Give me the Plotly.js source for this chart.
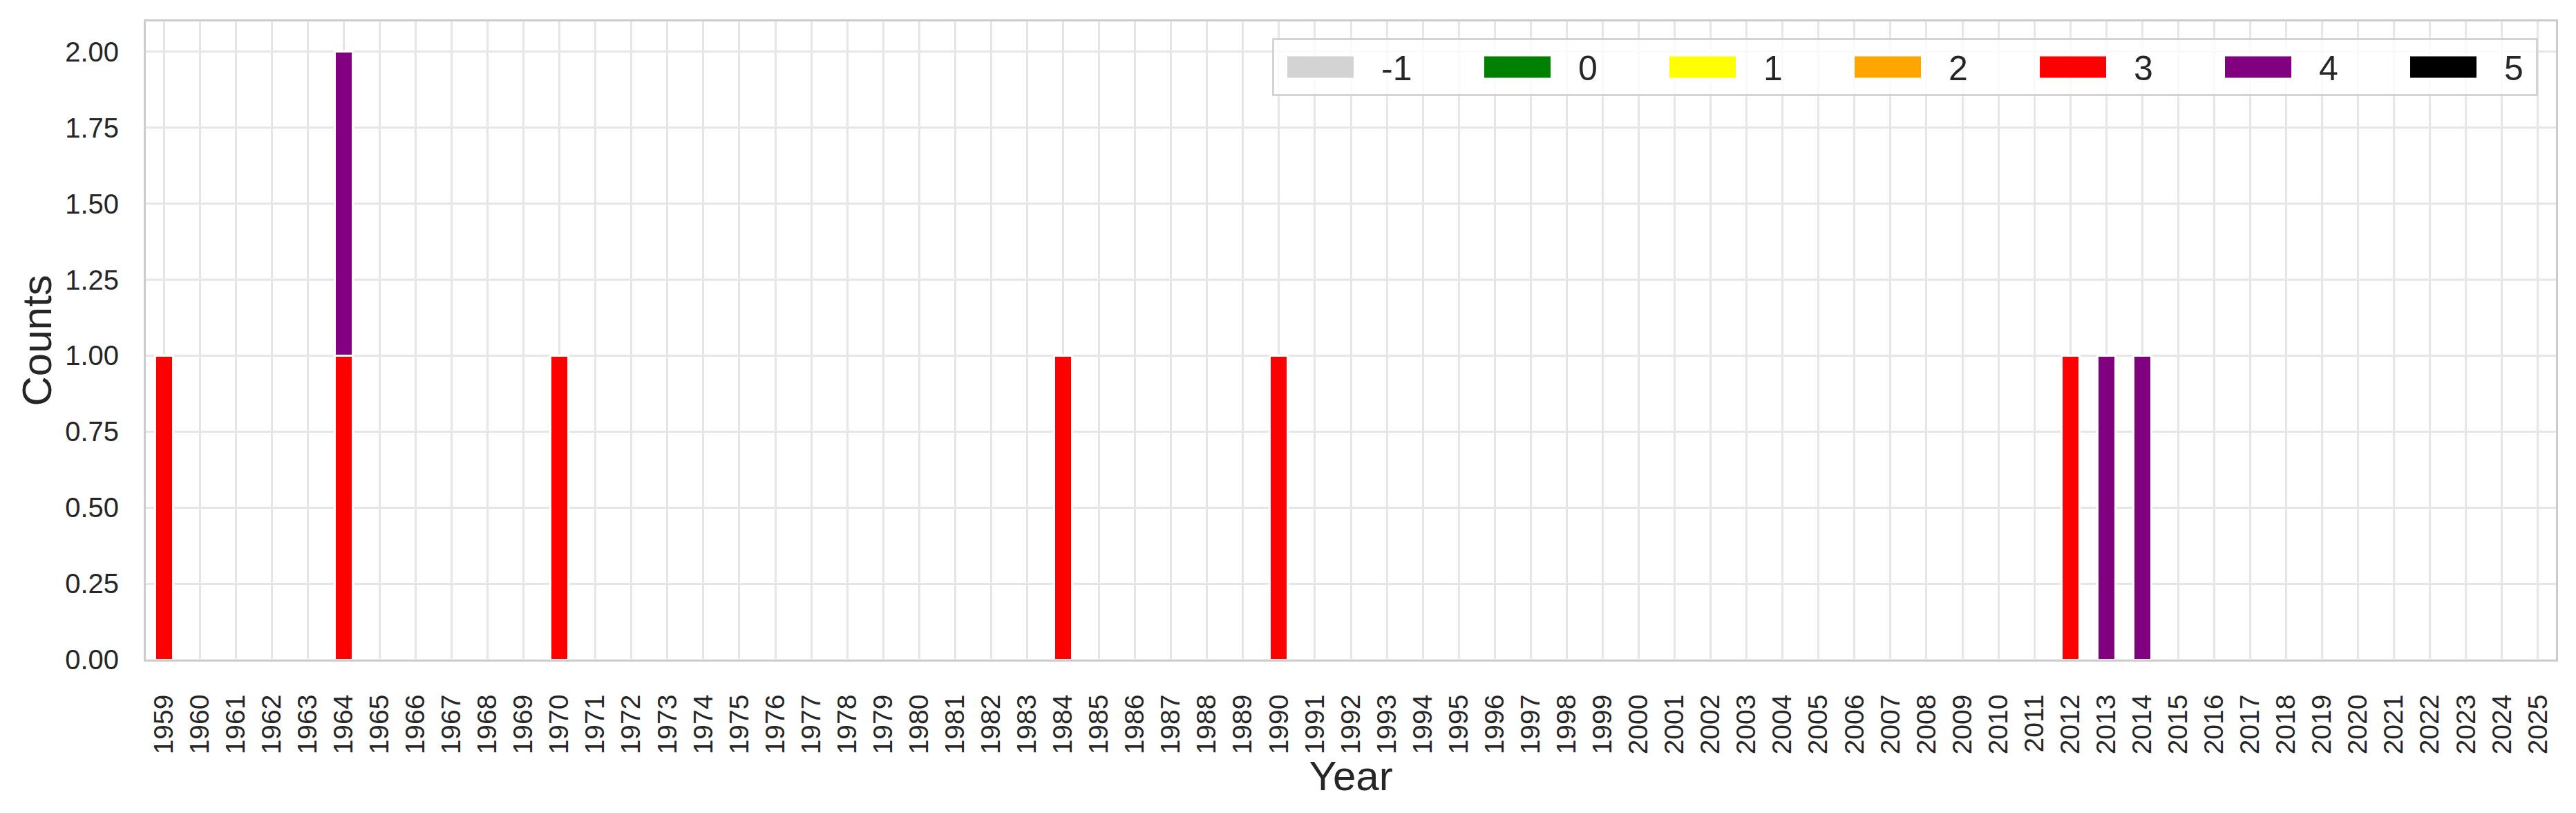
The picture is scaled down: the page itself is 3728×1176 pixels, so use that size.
<!DOCTYPE html>
<html>
<head>
<meta charset="utf-8">
<script src="https://cdn.plot.ly/plotly-3.0.1.min.js"></script>
<style>
  html, body { margin: 0; padding: 0; background: #ffffff; }
  #chart { width: 3728px; height: 1176px; }
</style>
</head>
<body>
<div id="chart"></div>
<script>
// ---- Data ----
const years = [
  "1959","1960","1961","1962","1963","1964","1965","1966","1967","1968",
  "1969","1970","1971","1972","1973","1974","1975","1976","1977","1978",
  "1979","1980","1981","1982","1983","1984","1985","1986","1987","1988",
  "1989","1990","1991","1992","1993","1994","1995","1996","1997","1998",
  "1999","2000","2001","2002","2003","2004","2005","2006","2007","2008",
  "2009","2010","2011","2012","2013","2014","2015","2016","2017","2018",
  "2019","2020","2021","2022","2023","2024","2025"
];

const countsMinus1 = [
  0,0,0,0,0,0,0,0,0,0, 0,0,0,0,0,0,0,0,0,0, 0,0,0,0,0,0,0,0,0,0,
  0,0,0,0,0,0,0,0,0,0, 0,0,0,0,0,0,0,0,0,0, 0,0,0,0,0,0,0,0,0,0, 0,0,0,0,0,0,0
];
const counts0 = [
  0,0,0,0,0,0,0,0,0,0, 0,0,0,0,0,0,0,0,0,0, 0,0,0,0,0,0,0,0,0,0,
  0,0,0,0,0,0,0,0,0,0, 0,0,0,0,0,0,0,0,0,0, 0,0,0,0,0,0,0,0,0,0, 0,0,0,0,0,0,0
];
const counts1 = [
  0,0,0,0,0,0,0,0,0,0, 0,0,0,0,0,0,0,0,0,0, 0,0,0,0,0,0,0,0,0,0,
  0,0,0,0,0,0,0,0,0,0, 0,0,0,0,0,0,0,0,0,0, 0,0,0,0,0,0,0,0,0,0, 0,0,0,0,0,0,0
];
const counts2 = [
  0,0,0,0,0,0,0,0,0,0, 0,0,0,0,0,0,0,0,0,0, 0,0,0,0,0,0,0,0,0,0,
  0,0,0,0,0,0,0,0,0,0, 0,0,0,0,0,0,0,0,0,0, 0,0,0,0,0,0,0,0,0,0, 0,0,0,0,0,0,0
];
const counts3 = [
  1,0,0,0,0,1,0,0,0,0,   // 1959-1968
  0,1,0,0,0,0,0,0,0,0,   // 1969-1978
  0,0,0,0,0,1,0,0,0,0,   // 1979-1988
  0,1,0,0,0,0,0,0,0,0,   // 1989-1998
  0,0,0,0,0,0,0,0,0,0,   // 1999-2008
  0,0,0,1,0,0,0,0,0,0,   // 2009-2018
  0,0,0,0,0,0,0          // 2019-2025
];
const counts4 = [
  0,0,0,0,0,1,0,0,0,0,
  0,0,0,0,0,0,0,0,0,0,
  0,0,0,0,0,0,0,0,0,0,
  0,0,0,0,0,0,0,0,0,0,
  0,0,0,0,0,0,0,0,0,0,
  0,0,0,0,1,1,0,0,0,0,
  0,0,0,0,0,0,0
];
const counts5 = [
  0,0,0,0,0,0,0,0,0,0, 0,0,0,0,0,0,0,0,0,0, 0,0,0,0,0,0,0,0,0,0,
  0,0,0,0,0,0,0,0,0,0, 0,0,0,0,0,0,0,0,0,0, 0,0,0,0,0,0,0,0,0,0, 0,0,0,0,0,0,0
];

const seriesNames  = ["-1", "0", "1", "2", "3", "4", "5"];
const seriesValues = [countsMinus1, counts0, counts1, counts2, counts3, counts4, counts5];
const seriesColors = ["#d3d3d3", "#008000", "#ffff00", "#ffa500", "#ff0000", "#800080", "#000000"];
const legendWidths = [125, 108, 108, 108, 108, 108, 41];

const yTicks = [0, 0.25, 0.5, 0.75, 1.0, 1.25, 1.5, 1.75, 2.0];

// ---- Build traces ----
const FONT = "Liberation Sans, Arial, Helvetica, sans-serif";
const TXT = "#262626";

const traces = seriesNames.map((name, i) => ({
  type: "bar",
  name: name,
  x: years,
  y: seriesValues[i],
  width: 0.5,
  legendwidth: legendWidths[i],
  marker: { color: seriesColors[i], line: { color: "#ffffff", width: 3 } },
  hoverinfo: "x+y+name"
}));

const layout = {
  width: 3728,
  height: 1176,
  paper_bgcolor: "#ffffff",
  plot_bgcolor: "#ffffff",
  barmode: "stack",
  margin: { l: 211, r: 29, t: 31, b: 222, pad: 0 },
  font: { family: FONT, color: TXT, size: 40 },
  showlegend: true,
  legend: {
    orientation: "h",
    x: 0.99255, xanchor: "right",
    y: 0.974, yanchor: "top",
    bgcolor: "rgba(255,255,255,0.8)",
    bordercolor: "#d4d4d4",
    borderwidth: 3,
    font: { family: FONT, size: 50, color: TXT },
    itemwidth: 145,
    traceorder: "normal",
    entrywidthmode: "pixels"
  },
  xaxis: {
    type: "category",
    categoryorder: "array",
    categoryarray: years,
    range: [-0.5, 66.5],
    tickangle: -90,
    tickfont: { family: FONT, size: 39, color: TXT },
    ticks: "",
    ticklabelstandoff: 32,
    showgrid: true,
    gridcolor: "#e6e6e6",
    gridwidth: 3,
    showline: true,
    linecolor: "#cccccc",
    linewidth: 3,
    mirror: true,
    zeroline: false,
    automargin: false,
    title: { text: "Year", font: { family: FONT, size: 60, color: TXT }, standoff: 0 }
  },
  yaxis: {
    range: [0, 2.1],
    tickvals: yTicks,
    tickformat: ".2f",
    tickfont: { family: FONT, size: 40, color: TXT },
    ticks: "",
    ticklabelstandoff: 28,
    showgrid: true,
    gridcolor: "#e6e6e6",
    gridwidth: 3,
    showline: true,
    linecolor: "#cccccc",
    linewidth: 3,
    mirror: true,
    zeroline: false,
    automargin: false,
    title: { text: "Counts", font: { family: FONT, size: 60, color: TXT }, standoff: 1 }
  }
};

Plotly.newPlot("chart", traces, layout, { staticPlot: true, displayModeBar: false }).then(gd => {
  // Enlarge legend swatches to match the wide rectangular patches of the reference
  gd.querySelectorAll(".legend .legendpoints path").forEach(p => {
    p.setAttribute("d", "M-58.5,-15.5h96v31h-96Z");
    p.style.strokeWidth = "0px";
  });
  // Small nudge of the x-axis title towards the tick labels
  const xt = gd.querySelector(".g-xtitle text");
  if (xt) {
    const y = parseFloat(xt.getAttribute("y"));
    if (!isNaN(y)) xt.setAttribute("y", String(y - 2));
  }
});
</script>
</body>
</html>
